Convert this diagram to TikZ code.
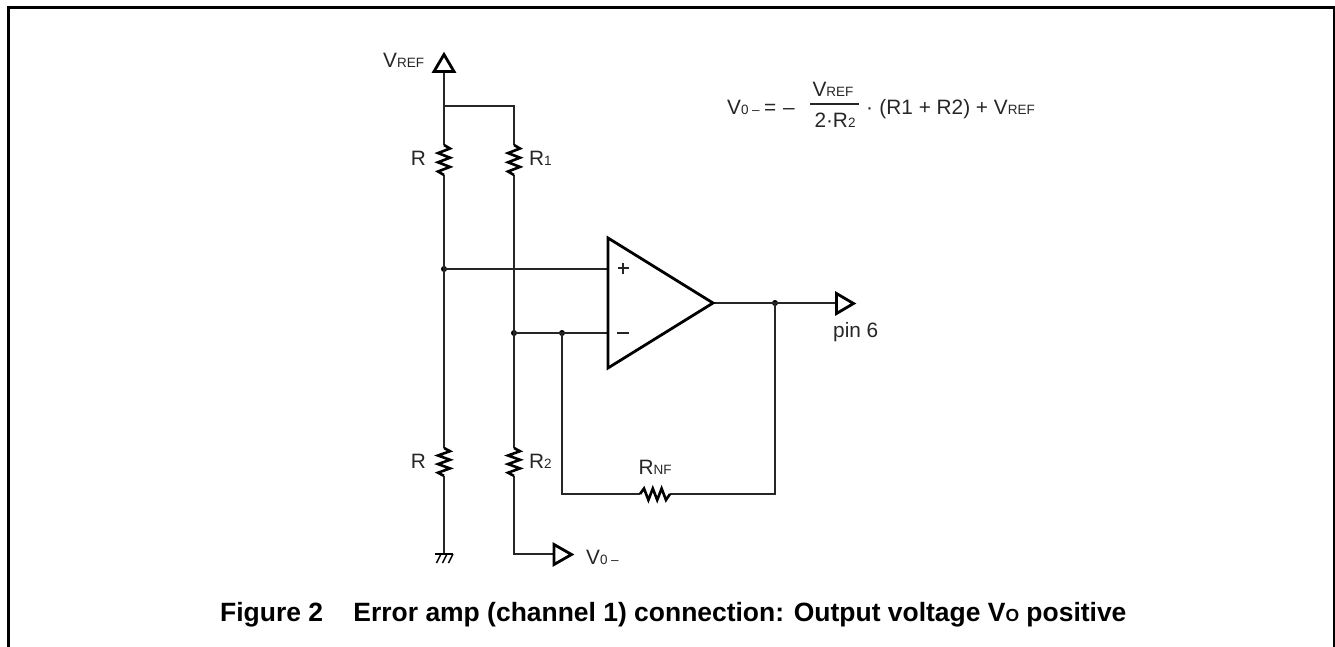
\documentclass[tikz,border=0pt]{standalone}
\usepackage{fontspec}
\setmainfont{Liberation Sans}
\newcommand{\lbl}{\fontsize{20.8}{22}\selectfont}
\newcommand{\sm}[1]{{\fontsize{13.5}{15}\selectfont #1}}
\tikzset{
  wire/.style={draw=black!85,line width=1.3pt},
  heavy/.style={draw=black,line width=2.8pt,line join=miter},
  res/.style={draw=black,line width=2.6pt,line join=miter},
  dotn/.style={circle,fill=black,inner sep=0pt,minimum size=6pt},
  txt/.style={inner sep=0pt,font=\lbl,text=black!85},
  frameline/.style={draw=black,line width=2.6pt}
}
\begin{document}
\begin{tikzpicture}[x=1pt,y=-1pt]
\useasboundingbox (0,0) rectangle (1335,647);
% frame
\draw[frameline] (8.5,647) -- (8.5,7.5) -- (1333.8,7.5) -- (1333.8,647);
% coordinates
\coordinate (vref) at (444,72);
\coordinate (top) at (444,106);
\coordinate (topr) at (514,106);
\coordinate (rT) at (444,145);
\coordinate (rB) at (444,175);
\coordinate (r1T) at (514,145);
\coordinate (r1B) at (514,175);
\node[dotn] (jp) at (444,269) {};
\node[dotn] (jm) at (514,333) {};
\node[dotn] (jf) at (562,333) {};
\node[dotn] (jo) at (775,303) {};
\coordinate (ip) at (608,269);
\coordinate (im) at (608,333);
\coordinate (otip) at (713,303);
\coordinate (pin) at (836,303);
\coordinate (r3T) at (444,448);
\coordinate (r3B) at (444,476);
\coordinate (r2T) at (514,448);
\coordinate (r2B) at (514,476);
\coordinate (gnd) at (444,554);
\coordinate (r2c) at (514,554);
\coordinate (vo) at (554,554);
\coordinate (fbl) at (562,494);
\coordinate (nfL) at (640,494);
\coordinate (nfR) at (670,494);
\coordinate (fbr) at (775,494);
% wires
\draw[wire] (vref) -- (rT);
\draw[wire] (top) -- (topr) -- (r1T);
\draw[wire] (rB) -- (jp.center) -- (r3T);
\draw[wire] (r1B) -- (jm.center) -- (r2T);
\draw[wire] (jp.center) -- (ip);
\draw[wire] (jm.center) -- (im);
\draw[wire] (r3B) -- (gnd);
\draw[wire] (r2B) -- (r2c) -- (vo);
\draw[wire] (jf.center) -- (fbl) -- (nfL);
\draw[wire] (nfR) -- (fbr) -- (jo.center);
\draw[wire] (otip) -- (pin);
% vertical resistors
\foreach \a in {rT,r1T}{
  \draw[res] (\a) -- ++(6,3.5) -- ++(-12,4.6) -- ++(12,4.6) -- ++(-12,4.6) -- ++(12,4.6) -- ++(-12,4.6) -- ++(6,3.5);
}
\foreach \a in {r3T,r2T}{
  \draw[res] (\a) -- ++(6,3.2) -- ++(-12,4.3) -- ++(12,4.3) -- ++(-12,4.3) -- ++(12,4.3) -- ++(-12,4.3) -- ++(6,3.2);
}
% horizontal resistor
\draw[res] (nfL) -- ++(4,-5.5) -- ++(4.4,11.5) -- ++(4.4,-11.5) -- ++(4.4,11.5) -- ++(4.4,-11.5) -- ++(4.4,11.5) -- (nfR);
% op amp
\draw[heavy] (608,238) -- (otip) -- (608,368) -- cycle;
\draw[line width=2pt,black!85] (617.5,268) -- (628.5,268) (623,262.5) -- (623,273.5);
\draw[line width=1.5pt,black!85] (617,333) -- (629,333);
% flags
\draw[heavy] (434,71.5) -- (444,54.5) -- (454,71.5) -- cycle;
\draw[heavy] (836.5,293.5) -- (853.5,303.5) -- (836.5,313.5) -- cycle;
\draw[heavy] (554,544.5) -- (571.5,554.5) -- (554,564.5) -- cycle;
% ground
\draw[line width=1.8pt,black] (435,554) -- (453,554);
\foreach \x in {441,447,453}{ \draw[line width=1.5pt,black] (\x,554) -- ++(-4.5,9); }
% labels
\node[txt,anchor=base west] (tvref) at (383,68) {V\sm{REF}};
\node[txt,anchor=base east] (tr) at (426,166) {R};
\node[txt,anchor=base west] (tr1) at (529,166) {R\sm{1}};
\node[txt,anchor=base east] (tr3) at (426,468) {R};
\node[txt,anchor=base west] (tr2) at (529,468) {R\sm{2}};
\node[txt,anchor=base] (trnf) at (655,474) {R\sm{NF}};
\node[txt,anchor=base west] (tpin) at (833,337) {pin 6};
\node[txt,anchor=base west] (tvo) at (586,564) {V\sm{0}\,\sm{–}};
% formula
\node[txt,anchor=base west] (f1) at (727,115) {V\sm{0}\,\sm{–}};
\node[txt,anchor=base west] (feq) at (764,115) {=};
\node[txt,anchor=base west] (fmin) at (783,115) {–};
\node[txt,anchor=base] (fn) at (833,97) {V\sm{REF}};
\draw[line width=1.2pt,black!85] (810,104) -- (859,104);
\node[txt,anchor=base] (fd) at (835,128) {2·R\sm{2}};
\node[txt,anchor=base west] (fdot) at (866,115) {·};
\node[txt,anchor=base east] (f2) at (1035,115) {(R1 + R2) + V\sm{REF}};
% caption
\node[inner sep=0pt,anchor=base west,text=black,font=\fontsize{26.45}{28}\selectfont\bfseries] (cap) at (220,621) {Figure 2\hspace{1.15em}Error amp (channel 1) connection: Output voltage V{\fontsize{17.5}{20}\selectfont O} positive};
\end{tikzpicture}
\end{document}
